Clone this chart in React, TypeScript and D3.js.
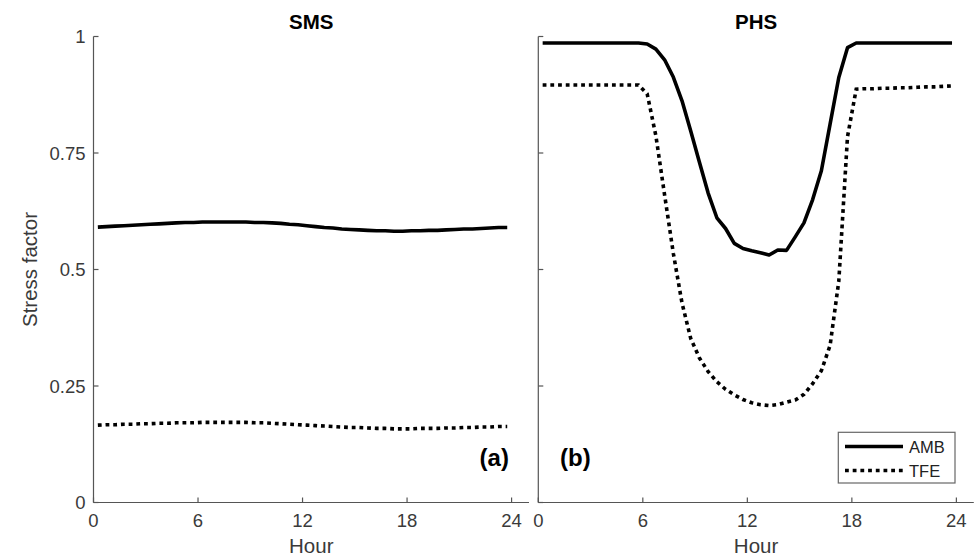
import React from "react";
import * as d3 from "d3";

// half-hourly samples, centred on each half hour
const hours = d3.range(48).map((i) => 0.25 + i * 0.5);

const smsAmb = [
  0.591, 0.592, 0.593, 0.594, 0.595, 0.596, 0.597, 0.598, 0.599, 0.6,
  0.601, 0.601, 0.602, 0.602, 0.602, 0.602, 0.602, 0.602, 0.601, 0.601,
  0.6, 0.599, 0.597, 0.596, 0.594, 0.592, 0.59, 0.589, 0.587, 0.586,
  0.585, 0.584, 0.583, 0.583, 0.582, 0.582, 0.583, 0.583, 0.584, 0.584,
  0.585, 0.586, 0.587, 0.587, 0.588, 0.589, 0.59, 0.59,
];
const smsTfe = [
  0.166, 0.167, 0.167, 0.168, 0.168, 0.169, 0.169, 0.17, 0.17, 0.171,
  0.171, 0.171, 0.172, 0.172, 0.172, 0.172, 0.172, 0.172, 0.171, 0.171,
  0.17, 0.169, 0.168, 0.167, 0.166, 0.165, 0.164, 0.163, 0.162, 0.161,
  0.161, 0.16, 0.159, 0.159, 0.158, 0.158, 0.158, 0.159, 0.159, 0.159,
  0.16, 0.16, 0.161, 0.161, 0.162, 0.162, 0.163, 0.163,
];
const phsAmb = [
  0.986, 0.986, 0.986, 0.986, 0.986, 0.986, 0.986, 0.986, 0.986, 0.986,
  0.986, 0.986, 0.984, 0.973, 0.95, 0.913, 0.862, 0.797, 0.73, 0.664,
  0.611, 0.588, 0.556, 0.545, 0.54, 0.536, 0.531, 0.542, 0.541, 0.57,
  0.6, 0.65, 0.712, 0.812, 0.912, 0.976, 0.986, 0.986, 0.986, 0.986,
  0.986, 0.986, 0.986, 0.986, 0.986, 0.986, 0.986, 0.986,
];
const phsTfe = [
  0.896, 0.896, 0.896, 0.896, 0.896, 0.896, 0.896, 0.896, 0.896, 0.896,
  0.896, 0.896, 0.877, 0.787, 0.66, 0.535, 0.428, 0.352, 0.31, 0.281,
  0.259, 0.243, 0.231, 0.221, 0.214, 0.21, 0.208, 0.21, 0.215, 0.22,
  0.232, 0.255, 0.283, 0.337, 0.475, 0.785, 0.887, 0.888, 0.888, 0.889,
  0.889, 0.89, 0.89, 0.891, 0.892, 0.892, 0.893, 0.894,
];

const xTicks = [0, 6, 12, 18, 24];
const yTicks = [0, 0.25, 0.5, 0.75, 1];
const yTickLabels = ["0", "0.25", "0.5", "0.75", "1"];

const panels = [
  { title: "SMS", tag: "(a)", amb: smsAmb, tfe: smsTfe, left: 93.5, showY: true },
  { title: "PHS", tag: "(b)", amb: phsAmb, tfe: phsTfe, left: 538.3, showY: false },
];

const width = 976;
const height = 556;
const axisW = 435.5;
const font = "'Liberation Sans', Arial, sans-serif";
const axisColor = "#555";
const textColor = "#3a3a3a";

const y = d3.scaleLinear().domain([0, 1]).range([502.5, 36.5]);

const Panel = ({ p }) => {
  const x = d3.scaleLinear().domain([0, 25]).range([p.left, p.left + axisW]);
  const line = d3
    .line<number>()
    .x((_, i) => x(hours[i]))
    .y((d) => y(d));
  const cx = (x.range()[0] + x.range()[1]) / 2;

  return (
    <g>
      <text x={cx} y={29} textAnchor="middle" fontFamily={font} fontWeight="bold" fontSize={20.5} fill="#000">
        {p.title}
      </text>

      {/* axes */}
      <line x1={x(0)} x2={x(25)} y1={y(0)} y2={y(0)} stroke={axisColor} strokeWidth={1.2} />
      <line x1={x(0)} x2={x(0)} y1={y(0)} y2={y(1)} stroke={axisColor} strokeWidth={1.2} />
      {xTicks.map((t) => (
        <g key={"x" + t}>
          <line x1={x(t)} x2={x(t)} y1={y(0)} y2={y(0) - 5} stroke={axisColor} strokeWidth={1.2} />
          <text x={x(t)} y={527} textAnchor="middle" fontFamily={font} fontSize={18.5} fill={textColor}>
            {t}
          </text>
        </g>
      ))}
      {yTicks.map((t, i) => (
        <g key={"y" + t}>
          <line x1={x(0)} x2={x(0) + 5} y1={y(t)} y2={y(t)} stroke={axisColor} strokeWidth={1.2} />
          {p.showY && (
            <text x={x(0) - 8} y={y(t) + 6.5} textAnchor="end" fontFamily={font} fontSize={18.5} fill={textColor}>
              {yTickLabels[i]}
            </text>
          )}
        </g>
      ))}
      <text x={cx} y={553} textAnchor="middle" fontFamily={font} fontSize={20.5} fill={textColor}>
        Hour
      </text>

      <path d={line(p.amb)} fill="none" stroke="#000" strokeWidth={3.6} strokeLinejoin="round" />
      <path d={line(p.tfe)} fill="none" stroke="#000" strokeWidth={3.6} strokeDasharray="3.8 3.9" />

      <text
        x={p.showY ? x(23.85) : x(1.25)}
        y={466}
        textAnchor={p.showY ? "end" : "start"}
        fontFamily={font}
        fontWeight="bold"
        fontSize={24}
        fill="#000"
      >
        {p.tag}
      </text>
    </g>
  );
};

const Legend = () => {
  const items = [
    { name: "AMB", dash: null },
    { name: "TFE", dash: "3.8 3.9" },
  ];
  return (
    <g>
      <rect x={838.3} y={432.3} width={116.7} height={50.7} fill="#fff" stroke="#666" strokeWidth={1.2} />
      {items.map((it, i) => (
        <g key={it.name} transform={`translate(0,${446.5 + i * 24})`}>
          <line x1={845} x2={903} y1={0} y2={0} stroke="#000" strokeWidth={3.6} strokeDasharray={it.dash ?? undefined} />
          <text x={909} y={6} fontFamily={font} fontSize={16.5} fill="#222">
            {it.name}
          </text>
        </g>
      ))}
    </g>
  );
};

export default function App() {
  return (
    <svg
      width={width}
      height={height}
      style={{ position: "absolute", left: 0, top: 0, background: "#fff" }}
    >
      <rect width={width} height={height} fill="#fff" />
      {panels.map((p) => (
        <Panel key={p.title} p={p} />
      ))}
      <text
        transform={`translate(37,${y(0.5)}) rotate(-90)`}
        textAnchor="middle"
        fontFamily={font}
        fontSize={20.5}
        fill={textColor}
      >
        Stress factor
      </text>
      <Legend />
    </svg>
  );
}
